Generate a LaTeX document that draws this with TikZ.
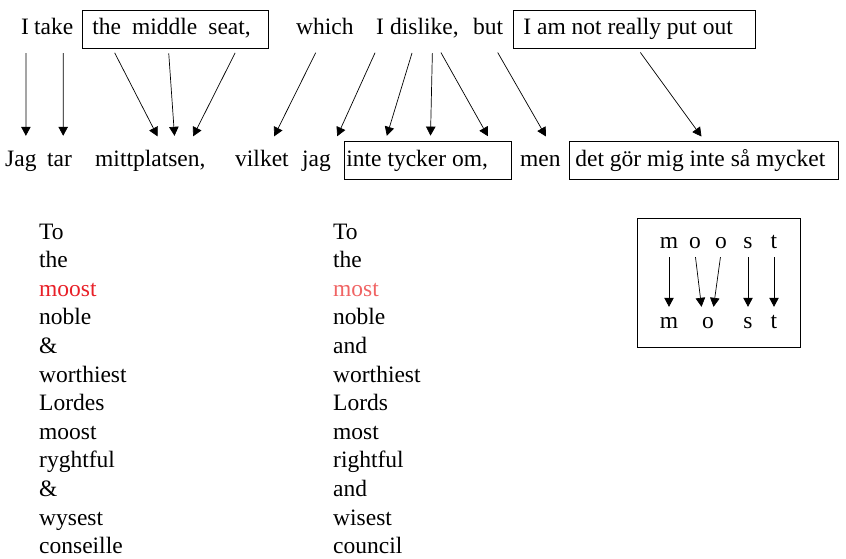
\documentclass[tikz,border=0pt]{standalone}
\usepackage{fontspec}
\setmainfont{Liberation Serif}
\usetikzlibrary{arrows.meta}
\definecolor{oldred}{RGB}{232,32,40}
\definecolor{newred}{RGB}{240,100,100}
\tikzset{
	word/.style={inner xsep=0pt,inner ysep=8pt,text height=17pt,text depth=5pt,anchor=base west},
	box/.style={word,draw,line width=.8pt},
	letter/.style={inner sep=0pt,text height=17pt,text depth=5pt,anchor=base},
	column/.style={inner sep=0pt,align=left,anchor=base west},
	link/.style={line width=.7pt,-{Triangle[length=9pt,width=9.5pt]},shorten <=5pt,shorten >=5pt},
	letterlink/.style={link,shorten <=4pt,shorten >=4pt},
}
\begin{document}
\begin{tikzpicture}[x=1pt,y=-1pt,font=\fontsize{23.5}{28.6}\selectfont]
		\useasboundingbox (0,0) rectangle (846,559);
		% English line
		\node[word] (eI) at (21,35) {I};
		\node[word] (eTake) at (34,35) {take};
		\node[box,inner xsep=10pt] (eSeat) at (82,35) {\makebox[166pt][l]{\spaceskip=11pt the middle seat,}};
		\node[word] (eWhich) at (296,35) {which};
		\node[word] (eI2) at (376,35) {I};
		\node[word] (eDislike) at (390,35) {dislike,};
		\node[word] (eBut) at (473,35) {but};
		\node[box,inner xsep=10pt] (ePutOut) at (513,35) {\makebox[222pt][l]{I am not really put out}};
		% Swedish line
		\node[word] (sJag) at (5,166) {Jag};
		\node[word] (sTar) at (47,166) {tar};
		\node[word] (sMitt) at (95,166) {mittplatsen,};
		\node[word] (sVilket) at (235,166) {vilket};
		\node[word] (sJag2) at (302,166) {jag};
		\node[box,inner xsep=2pt] (sTycker) at (344,166) {\makebox[163pt][l]{inte tycker om,}};
		\node[word] (sMen) at (520,166) {men};
		\node[box,inner xsep=6pt] (sGor) at (569,166) {\makebox[257pt][l]{det gör mig inte så mycket}};
		\draw[link] ([xshift=1]eI.south) -- ([xshift=5]sJag.north);
		\draw[link] ([xshift=9.4]eTake.south) -- ([xshift=3.6]sTar.north);
		\draw[link] ([xshift=-63]eSeat.south) -- ([xshift=9.5]sMitt.north);
		\draw[link] ([xshift=-7]eSeat.south) -- ([xshift=24.5]sMitt.north);
		\draw[link] ([xshift=62]eSeat.south) -- ([xshift=40.5]sMitt.north);
		\draw[link] ([xshift=-7]eWhich.south) -- ([xshift=10]sVilket.north);
		\draw[link] ([xshift=-3]eI2.south) -- ([xshift=18.6]sJag2.north);
		\draw[link] ([xshift=-11]eDislike.south) -- ([xshift=-42.5]sTycker.north);
		\draw[link] ([xshift=8]eDislike.south) -- ([xshift=2.5]sTycker.north);
		\draw[link] ([xshift=14]eDislike.south) -- ([xshift=62.5]sTycker.north);
		\draw[link] ([xshift=7]eBut.south) -- ([xshift=8]sMen.north);
		\draw[link] ([xshift=3]ePutOut.south) -- ([xshift=.5]sGor.north);
		% old and new spelling
		\node[column] (oldText) at (39,553.6) {To\\the\\\textcolor{oldred}{moost}\\noble\\\&\\worthiest\\Lordes\\moost\\ryghtful\\\&\\wysest\\conseille};
		\node[column] (newText) at (333,553.6) {To\\the\\\textcolor{newred}{most}\\noble\\and\\worthiest\\Lords\\most\\rightful\\and\\wisest\\council};
		% moost -> most
		\draw[line width=.8pt] (637,218) rectangle (800,347);
		\node[letter] (om) at (669,248) {m};
		\node[letter] (oo1) at (695,248) {o};
		\node[letter] (oo2) at (721,248) {o};
		\node[letter] (os) at (748,248) {s};
		\node[letter] (ot) at (774,248) {t};
		\node[letter] (nm) at (669,328) {m};
		\node[letter] (no) at (708,328) {o};
		\node[letter] (ns) at (748,328) {s};
		\node[letter] (nt) at (774,328) {t};
		\draw[letterlink] (om) -- (nm);
		\draw[letterlink] (oo1.south) -- ([xshift=-6]no.north);
		\draw[letterlink] (oo2.south) -- ([xshift=5]no.north);
		\draw[letterlink] (os) -- (ns);
		\draw[letterlink] (ot) -- (nt);
\end{tikzpicture}
\end{document}
